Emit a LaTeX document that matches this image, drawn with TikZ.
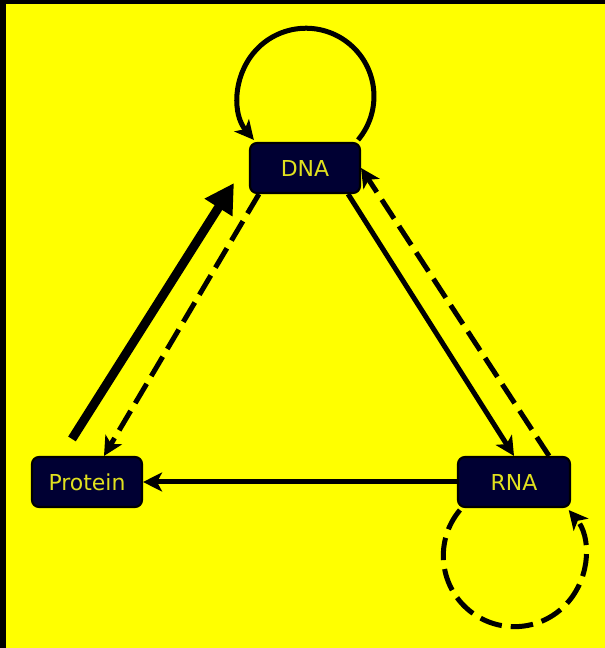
\documentclass[tikz,border=0pt]{standalone}
\usepackage{tikz}
\usepackage{xcolor}
\usepackage{fontspec}
\newfontfamily\labelfont{DejaVu Sans}
\usetikzlibrary{arrows.meta}
\definecolor{bgyellow}{RGB}{255,255,0}
\definecolor{boxnavy}{RGB}{0,0,51}
\definecolor{labelyellow}{RGB}{225,225,30}

\begin{document}
\begin{tikzpicture}[
    mol/.style={draw=black,line width=1.2pt,fill=boxnavy,rounded corners=4pt,
      minimum width=2.2cm,minimum height=1cm,inner sep=0pt,text=labelyellow,
      font=\labelfont\fontsize{12.5}{14}\selectfont},
    flow/.style={line width=0.1cm,-{Stealth[length=0.38cm,width=0.38cm,inset=0.1cm]}},
    flowdash/.style={flow,dash pattern=on 0.45cm off 0.18cm},
    bigflow/.style={line width=0.18cm,-{Triangle[length=0.58cm,width=0.62cm]}}]
      \useasboundingbox (0,0) rectangle (12.1,12.96);
      \fill [black] (0,0) rectangle (12.1,12.96);
      \fill [bgyellow] (0.12,0) rectangle (12.1,12.88);
      \node [mol] (dna) at (6.1,9.6) {DNA};
      \node [mol] (protein) at (1.74,3.32) {Protein};
      \node [mol,minimum width=2.24cm] (rna) at (10.28,3.32) {RNA};
      % self loops
      \draw [flow] ([xshift=-0.06cm,yshift=0.04cm]dna.north east) arc[start angle=-40,end angle=220,radius=1.36cm];
      \draw [flowdash] ([xshift=0.06cm,yshift=-0.04cm]rna.south west) arc[start angle=140,end angle=400,radius=1.42cm];
      \draw [bigflow] ([xshift=-0.3cm,yshift=0.34cm]protein.north) -- ([xshift=-0.3cm,yshift=0.22cm]dna.south west);
      \draw [flowdash] ([xshift=0.2cm]dna.south west) -- ([xshift=0.34cm]protein.north);
      \draw [flow] ([xshift=-0.26cm]dna.south east) -- (rna.north);
      \draw [flowdash] ([xshift=-0.44cm]rna.north east) -- (dna.east);
      \draw [flow] (rna.west) -- (protein.east);
    \end{tikzpicture}
\end{document}
